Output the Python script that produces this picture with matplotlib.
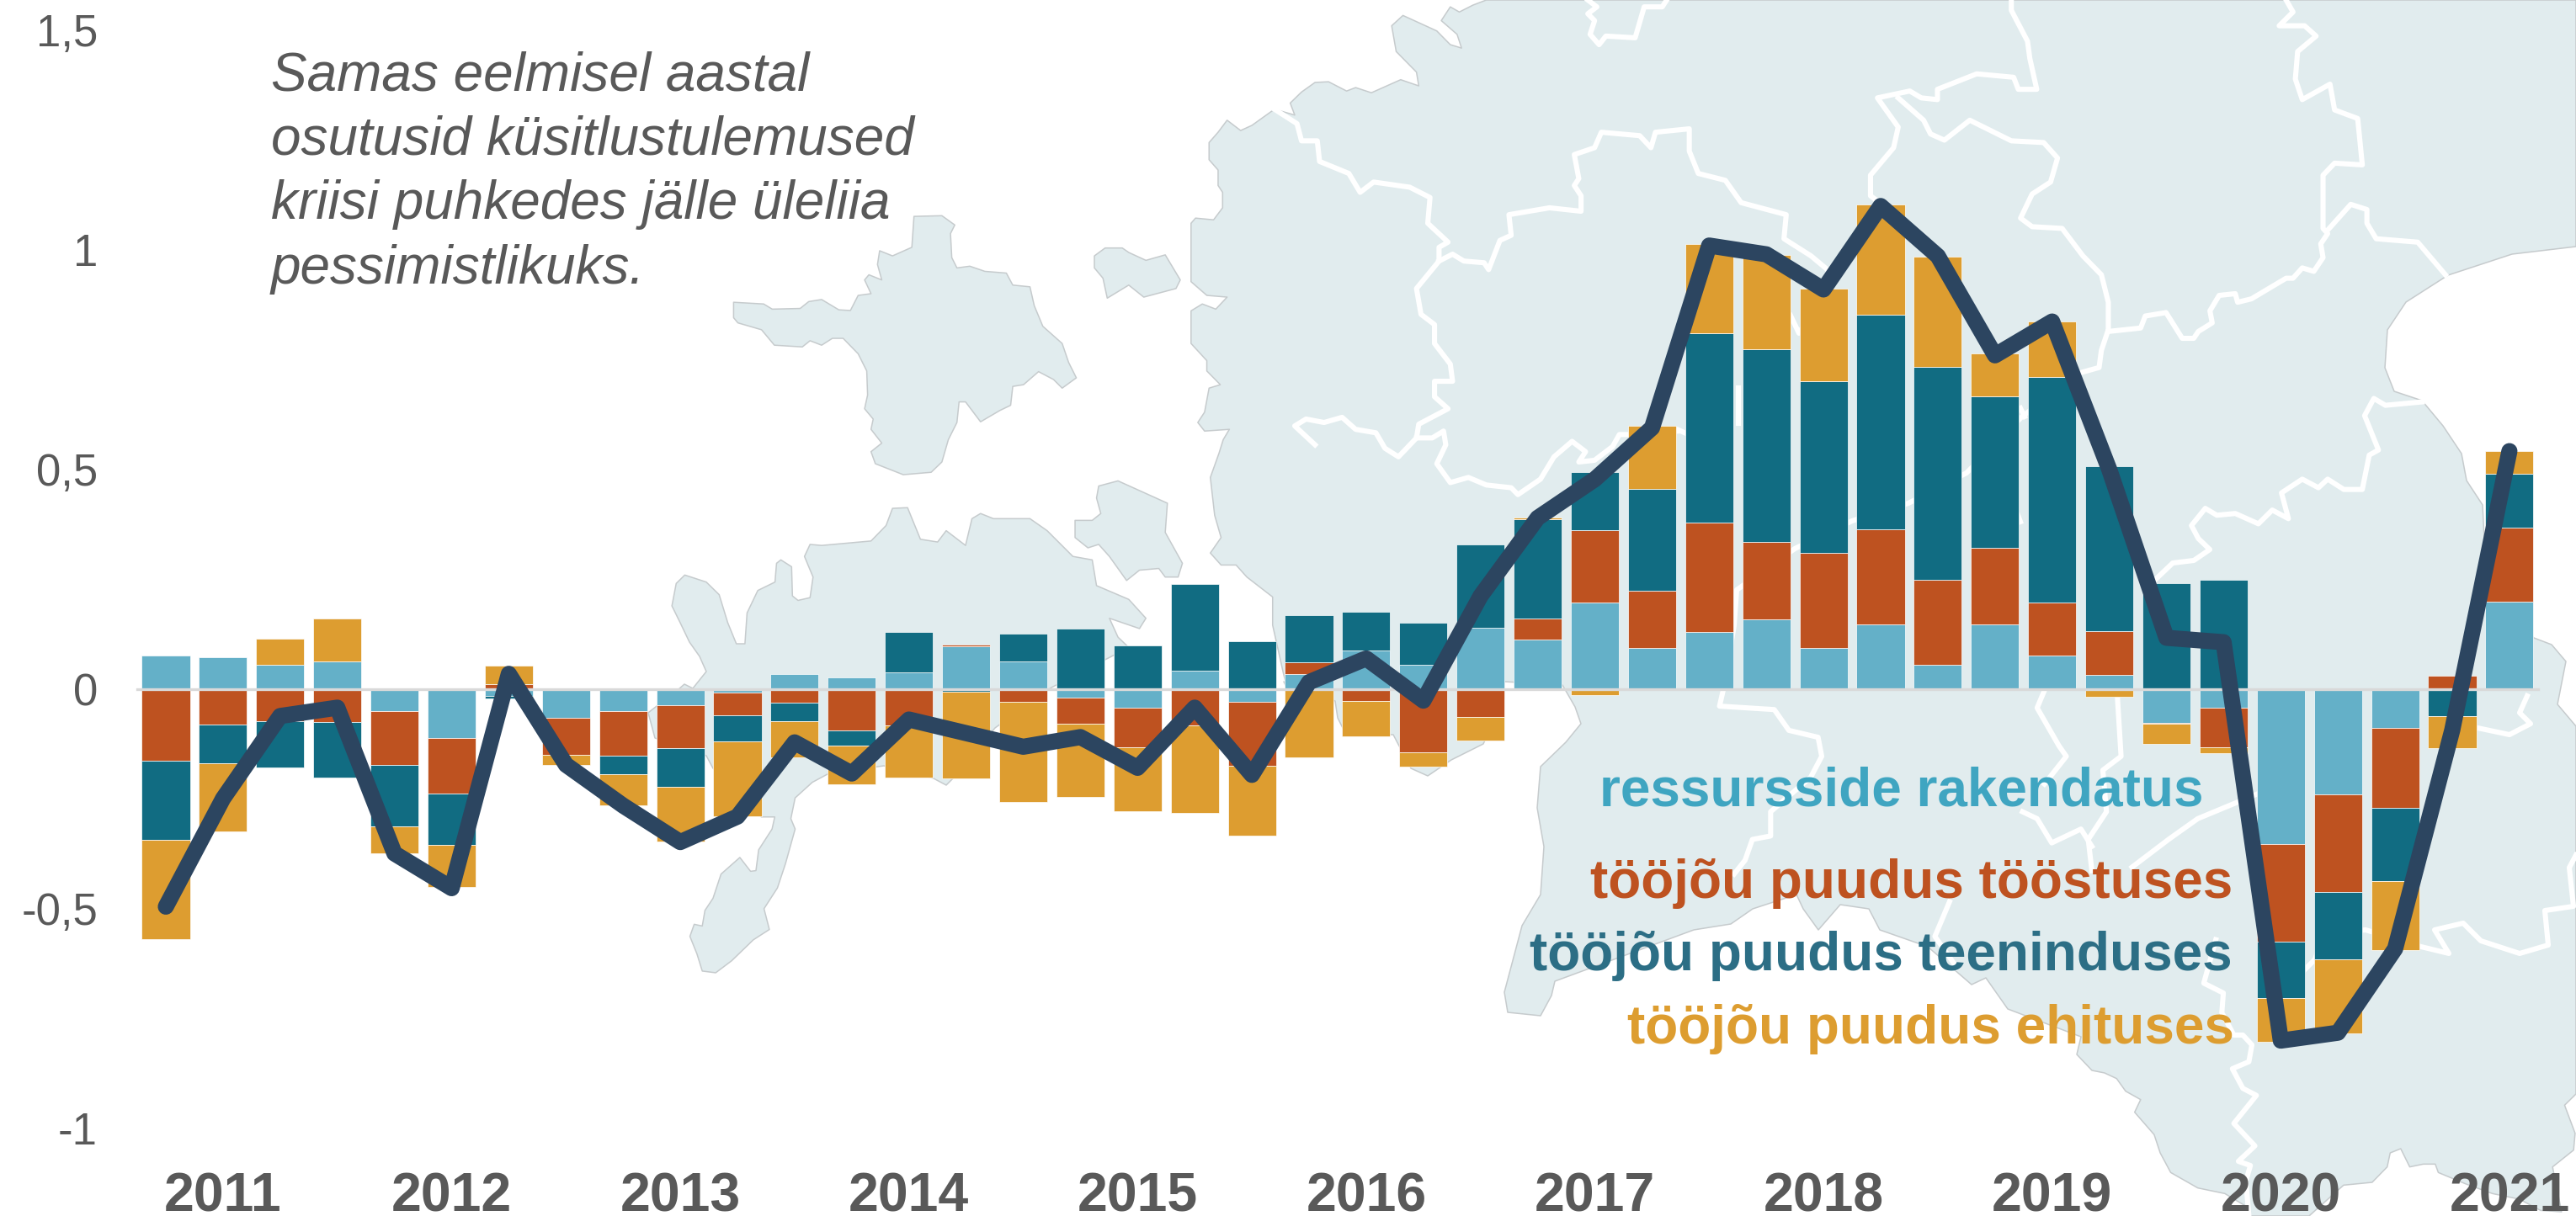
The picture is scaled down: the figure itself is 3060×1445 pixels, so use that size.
import matplotlib
matplotlib.use('Agg')
import matplotlib.pyplot as plt
from matplotlib.patches import Polygon

plt.rcParams['font.family'] = ['Liberation Sans', 'DejaVu Sans']

# chart data, one value per quarter
years = ['2011', '2012', '2013', '2014', '2015', '2016', '2017', '2018', '2019', '2020', '2021']
y_ticks = [1.5, 1, 0.5, 0, -0.5, -1]
y_labels = ['1,5', '1', '0,5', '0', '-0,5', '-1']

ressursid = [0.077, 0.072, 0.055, 0.063, -0.049, -0.112, -0.016, -0.066, -0.049, -0.036, -0.007,
             0.034, 0.026, 0.038, 0.097, 0.063, -0.02, -0.042, 0.042, -0.029, 0.034, 0.089,
             0.056, 0.139, 0.113, 0.198, 0.093, 0.131, 0.159, 0.093, 0.148, 0.056, 0.148, 0.076,
             0.033, -0.077, -0.043, -0.352, -0.239, -0.089, 0.0, 0.199]
toostus = [-0.163, -0.08, -0.073, -0.075, -0.123, -0.125, 0.012, -0.084, -0.102, -0.098, -0.053,
           -0.031, -0.093, -0.082, 0.004, -0.029, -0.059, -0.091, -0.082, -0.146, 0.027, -0.027,
           -0.144, -0.064, 0.048, 0.165, 0.131, 0.248, 0.177, 0.218, 0.216, 0.194, 0.173, 0.122,
           0.1, -0.002, -0.089, -0.222, -0.222, -0.182, 0.031, 0.169]
teenindus = [-0.179, -0.088, -0.105, -0.127, -0.141, -0.118, -0.005, 0.0, -0.042, -0.088, -0.059,
             -0.042, -0.036, 0.092, -0.006, 0.063, 0.138, 0.099, 0.197, 0.109, 0.107, 0.087,
             0.096, 0.19, 0.226, 0.132, 0.231, 0.432, 0.438, 0.39, 0.488, 0.484, 0.346, 0.513,
             0.375, 0.242, 0.249, -0.129, -0.154, -0.165, -0.061, 0.123]
ehitus = [-0.227, -0.156, 0.059, 0.097, -0.061, -0.096, 0.042, -0.023, -0.072, -0.124, -0.17,
          -0.082, -0.087, -0.119, -0.197, -0.228, -0.167, -0.145, -0.199, -0.159, -0.155, -0.081,
          -0.033, -0.052, 0.003, -0.014, 0.144, 0.202, 0.214, 0.21, 0.252, 0.25, 0.097, 0.127,
          -0.017, -0.046, -0.013, -0.099, -0.168, -0.157, -0.073, 0.051]
kokku = [-0.495, -0.249, -0.061, -0.042, -0.374, -0.453, 0.035, -0.172, -0.265, -0.348, -0.29,
         -0.121, -0.192, -0.069, -0.1, -0.131, -0.109, -0.179, -0.042, -0.195, 0.016, 0.07,
         -0.026, 0.212, 0.39, 0.478, 0.595, 1.01, 0.99, 0.91, 1.1, 0.986, 0.76, 0.837,
         0.5, 0.117, 0.107, -0.8, -0.782, -0.591, -0.093, 0.542]

series_names = ['ressursside rakendatus', 'tööjõu puudus tööstuses',
                'tööjõu puudus teeninduses', 'tööjõu puudus ehituses']
bar_colors = ['#64B0C8', '#BE5220', '#116C82', '#DD9D30']
text_colors = ['#3FA5C1', '#BE5220', '#2C6E85', '#DD9D30']
note = 'Samas eelmisel aastal\nosutusid küsitlustulemused\nkriisi puhkedes jälle üleliia\npessimistlikuks.'


def crop(x0, y0, sx, sy, pts):
    return [(x0 + x / sx, y0 + y / sy) for x, y in pts]


# background map, in picture pixels
Z1 = (140, 650, 1.96, 3)
Z5 = (800, 200, 1.96, 2.45)
Z6 = (1380, 0, 1.867, 2.45)
Z7 = (2200, 0, 1.823, 2.45)
Z8 = (1700, 800, 1.153, 2.43)
Z9 = (780, 800, 1.568, 2.43)
Z10 = (2500, 1100, 2.8, 3)

island_a = crop(*Z5, [(140, 390), (140, 435), (150, 450), (205, 470), (235, 515), (300, 520), (318, 502), (345, 515),
                      (370, 495), (395, 495), (430, 540), (450, 590), (452, 660), (445, 700), (465, 730), (460, 760),
                      (485, 800), (460, 825), (470, 860), (535, 892), (600, 885), (625, 855), (640, 790), (660, 740),
                      (665, 680), (680, 680), (715, 738), (760, 705), (785, 690), (790, 635), (815, 630), (850, 592),
                      (885, 615), (905, 640), (938, 610), (920, 565), (905, 510), (860, 460), (840, 400), (830, 345),
                      (790, 340), (775, 305), (725, 300), (690, 285), (660, 290), (648, 260), (645, 190), (655, 165),
                      (625, 138), (560, 140), (555, 230), (510, 255), (480, 240), (475, 280), (485, 325), (455, 310),
                      (445, 325), (460, 365), (430, 370), (412, 414), (385, 412), (345, 382), (315, 388), (295, 408),
                      (230, 410), (210, 395)])
island_b = crop(*Z5, [(980, 255), (1005, 232), (1045, 232), (1060, 245), (1100, 268), (1145, 252), (1180, 325),
                      (1170, 350), (1095, 375), (1060, 340), (1010, 378), (1000, 320), (980, 290)])
island_c = crop(*Z5, [(990, 925), (1035, 910), (1150, 975), (1145, 1060), (1185, 1150), (1175, 1190), (1145, 1190),
                      (1130, 1165), (1085, 1170), (1055, 1200), (1015, 1130), (990, 1095), (965, 1105), (935, 1075),
                      (935, 1025), (975, 1025), (995, 1005), (985, 960)])
island_d = (crop(*Z1, [(1290, 210), (1300, 130), (1320, 100), (1370, 125), (1400, 170), (1420, 270), (1440, 345),
                       (1460, 345), (1465, 235), (1490, 155), (1530, 125)])
            + crop(*Z5, [(240, 1150), (250, 1140), (275, 1160), (277, 1245), (290, 1258), (318, 1250), (325, 1190),
                         (305, 1130), (318, 1095), (345, 1098), (460, 1085), (495, 1040), (510, 990), (545, 988),
                         (575, 1080), (615, 1088), (635, 1055), (680, 1098), (695, 1020), (715, 1005), (745, 1020),
                         (830, 1020), (870, 1055), (930, 1130), (975, 1140), (985, 1215), (1060, 1255), (1100, 1310),
                         (1085, 1340), (1015, 1310), (1035, 1365), (1060, 1395)])
            + [(1249, 817), (1182, 865), (1137, 920), (1124, 933), (1109, 925), (1050, 910)]
            + crop(*Z9, [(320, 290), (290, 315), (258, 360), (250, 420), (258, 450), (240, 550), (225, 620), (200, 680),
                         (210, 740), (180, 770), (140, 830), (110, 865), (85, 860), (75, 810), (62, 760), (70, 725),
                         (85, 730), (90, 685), (105, 650), (120, 580), (155, 532), (175, 572), (185, 570), (190, 510),
                         (215, 450), (220, 415), (195, 415)])
            + [(847, 913), (839, 898), (778, 877), (770, 847), (775, 843), (805, 820), (813, 813), (823, 818),
               (839, 798), (831, 780), (819, 763), (808, 740)])

main_west = crop(*Z6, [(720, 0), (690, 15), (660, 35), (640, 20), (620, 60), (655, 100), (665, 140), (640, 130),
                       (610, 90), (535, 45), (510, 75), (520, 150), (565, 210), (570, 250), (530, 232), (465, 270),
                       (430, 255), (410, 265), (370, 238), (340, 240), (310, 268), (285, 300), (295, 335), (250, 318),
                       (200, 365), (175, 380), (145, 350), (125, 385), (105, 415), (105, 465), (125, 495), (125, 540),
                       (135, 560), (135, 605), (115, 640), (75, 635), (65, 650), (65, 820), (100, 860), (145, 865),
                       (120, 900), (90, 885), (65, 905), (65, 1000), (100, 1050), (100, 1080), (130, 1120), (105, 1130),
                       (95, 1200), (80, 1230), (95, 1255), (150, 1250)])
main_west2 = crop(*Z5, [(1280, 790), (1270, 830), (1250, 900), (1260, 1010), (1275, 1075), (1250, 1120), (1275, 1155),
                        (1310, 1155), (1335, 1190), (1395, 1248), (1395, 1330), (1420, 1470), (1430, 1520)])
main_south = [(1525, 810), (1586, 833), (1589, 853), (1599, 873), (1655, 873), (1676, 913), (1696, 922), (1724, 903),
              (1762, 884), (1787, 830), (1787, 810), (1856, 814), (1871, 840), (1878, 860), (1860, 882), (1830, 911),
              (1826, 960), (1834, 1006), (1830, 1063), (1808, 1100), (1787, 1179), (1791, 1203), (1830, 1207),
              (1843, 1183), (1847, 1166), (2012, 1105), (2056, 1098), (2082, 1080), (2134, 1063), (2142, 1080),
              (2160, 1105), (2186, 1075), (2220, 1080), (2233, 1105), (2290, 1125), (2342, 1170), (2359, 1162),
              (2385, 1199), (2472, 1232), (2467, 1253), (2485, 1272)]
main_se = crop(*Z10, [(0, 525), (40, 545), (70, 590), (120, 620), (100, 665), (165, 745), (185, 810), (220, 880),
                      (310, 935), (400, 955), (470, 1000), (480, 1035), (680, 1035), (795, 925), (890, 915), (940, 860),
                      (950, 810), (985, 795), (1015, 860), (1060, 850), (1100, 850), (1110, 880), (1200, 920),
                      (1290, 955), (1380, 975), (1450, 1015), (1520, 1020), (1490, 860), (1560, 800), (1565, 740),
                      (1530, 640), (1568, 600)])
main_east = [(3060, 863), (3038, 837), (3048, 786), (3031, 766), (3010, 758), (2951, 700), (2951, 640), (2949, 600),
             (2930, 571), (2924, 539), (2902, 506), (2877, 476), (2844, 465), (2833, 437), (2836, 392), (2858, 359),
             (2908, 327), (2984, 302), (3060, 293)]
mainland = main_west + main_west2 + main_south + main_se + main_east + [(3060, 0)]

borders = [
    crop(*Z6, [(250, 318), (300, 360), (310, 410), (345, 410), (350, 470), (415, 505), (440, 560), (470, 530), (550, 545),
               (595, 575), (590, 650), (635, 705), (615, 720), (615, 760), (565, 840), (575, 915), (605, 945), (605, 1000),
               (640, 1060), (645, 1110), (605, 1110), (605, 1155), (635, 1190), (570, 1235), (565, 1275), (525, 1330),
               (495, 1305), (475, 1260), (430, 1250), (400, 1215), (360, 1230), (320, 1220), (295, 1240), (340, 1295)]),
    crop(*Z6, [(615, 760), (645, 740), (670, 760), (715, 765), (725, 785), (750, 700), (775, 685), (770, 625), (860, 605),
               (930, 615), (930, 570), (915, 540), (925, 520), (915, 450), (960, 430), (975, 385), (1060, 395), (1085, 430),
               (1095, 385), (1170, 375), (1170, 440), (1190, 505), (1250, 525), (1285, 590), (1385, 625), (1380, 695),
               (1440, 745), (1490, 800)]),
    crop(*Z6, [(565, 1275), (600, 1275), (625, 1255), (630, 1295), (610, 1350), (640, 1405), (680, 1390), (720, 1412),
               (775, 1420), (790, 1440), (840, 1395), (870, 1330), (910, 1285), (940, 1315), (925, 1345), (960, 1340),
               (1000, 1300), (1015, 1265), (1040, 1265), (1145, 1255)]),
    crop(*Z6, [(945, 0), (965, 20), (945, 40), (960, 60), (950, 100), (970, 130), (985, 105), (1050, 110), (1070, 20),
               (1110, 20), (1120, 0)]),
    crop(*Z7, [(345, 0), (345, 30), (380, 120), (385, 170), (400, 260), (360, 260), (350, 225), (270, 215), (185, 260),
               (185, 290), (150, 285), (125, 265), (55, 285), (100, 370), (90, 430), (40, 510), (40, 570), (60, 590)]),
    crop(*Z7, [(100, 285), (155, 350), (170, 390), (200, 408), (255, 350), (345, 410), (415, 415), (445, 460), (430, 530),
               (390, 565), (365, 635), (390, 660), (455, 665), (500, 745), (540, 800), (555, 880), (555, 960), (540, 1020),
               (535, 1070), (495, 1085)])
    + [(2402, 495), (2336, 562), (2267, 598), (2200, 619), (2132, 652), (2063, 701), (2060, 743), (2047, 820)]
    + crop(*Z8, [(395, 95), (470, 105), (490, 165), (530, 185), (535, 240), (520, 300), (465, 400), (465, 470), (440, 480),
                 (430, 540), (415, 580)]),
    crop(*Z7, [(555, 965), (625, 955), (635, 920), (680, 910), (715, 985), (740, 985), (750, 965), (780, 940), (775, 905),
               (795, 860), (830, 855), (835, 880), (865, 870), (940, 810), (955, 810), (975, 780), (1000, 790), (1020, 750),
               (1015, 710), (1030, 680), (1020, 665), (1020, 510), (1045, 475), (1105, 480), (1095, 345), (1045, 320),
               (1035, 245), (975, 290), (960, 230), (965, 150), (1005, 105), (980, 75), (925, 75), (955, 35), (940, 0)]),
    crop(*Z7, [(1030, 670), (1080, 595), (1115, 610), (1115, 650), (1135, 695), (1225, 705), (1285, 800)]),
    crop(*Z7, [(1235, 1170), (1155, 1180), (1130, 1160), (1110, 1210), (1140, 1310), (1120, 1325), (1105, 1425),
               (1065, 1425), (1030, 1395), (1010, 1420), (975, 1395), (930, 1435), (945, 1510), (910, 1485), (880, 1525),
               (830, 1495), (790, 1500), (765, 1480), (735, 1530), (750, 1568)])
    + [(2625, 653), (2606, 666), (2581, 669), (2560, 689)],
    [(3002, 827), (2993, 847), (3006, 860), (2981, 873), (2943, 865), (2918, 873)],
    [(3060, 1016), (3052, 1031), (3057, 1077), (3023, 1082), (3027, 1123), (2993, 1133), (2947, 1118), (2926, 1097),
     (2892, 1105), (2909, 1133), (2876, 1125), (2860, 1120), (2810, 1105), (2760, 1110), (2750, 1140), (2730, 1160)],
    crop(*Z8, [(840, 50), (830, 100), (860, 210), (870, 240), (840, 320)]),
    crop(*Z8, [(940, 70), (945, 240), (920, 280), (925, 400), (900, 480), (905, 570)]),
    crop(*Z8, [(1130, 350), (1050, 420), (1010, 480), (960, 560)]),
    crop(*Z8, [(810, 400), (830, 420), (850, 490), (890, 450), (905, 500)]),
    crop(*Z8, [(710, 660), (690, 760), (720, 850)]),
    crop(*Z10, [(370, 50), (330, 205), (395, 240), (390, 310), (430, 390), (460, 390), (490, 425), (480, 485), (425, 510),
                (460, 580), (505, 605), (430, 705), (500, 785), (445, 840), (485, 855), (470, 910), (480, 1035)]),
    [(1994, 511), (2005, 516)],
    [(2065, 461), (2065, 503)],
    [(2127, 375), (2137, 396), (2178, 330)],
    [(2397, 612), (2400, 620)],
    [(2400, 485), (2405, 495)],
]

fig = plt.figure(figsize=(15.3, 7.225), dpi=200)

# map goes on its own axes behind the chart
bg = fig.add_axes([0, 0, 1, 1], zorder=0)
bg.set_xlim(0, 3060)
bg.set_ylim(1445, 0)
bg.axis('off')
for shape in [mainland, island_a, island_b, island_c, island_d]:
    bg.add_patch(Polygon(shape, closed=True, facecolor='#E1ECEE', edgecolor='#C6CBCD', lw=0.55, joinstyle='round'))
for b in borders:
    bg.plot([p[0] for p in b], [p[1] for p in b], color='white', lw=2.2, solid_joinstyle='round')

# chart axes: 0 sits on pixel 819, one unit is 522 px, one quarter is 67.9 px
ax = fig.add_axes([130 / 3060, 55 / 1445, (3060 - 130) / 3060, 1390 / 1445], zorder=1)
ax.patch.set_alpha(0)
ax.set_xlim((130 - 197) / 67.9, (3060 - 197) / 67.9)
ax.set_ylim((819 - 1390) / 522, 819 / 522)
for s in ax.spines.values():
    s.set_visible(False)

x = list(range(len(kokku)))
pos_base = [0.0] * len(x)
neg_base = [0.0] * len(x)
for vals, col in zip([ressursid, toostus, teenindus, ehitus], bar_colors):
    bottoms = [pos_base[i] if vals[i] >= 0 else neg_base[i] for i in x]
    ax.bar(x, vals, bottom=bottoms, width=0.84, color=col, edgecolor='white', linewidth=0.25, zorder=2)
    for i in x:
        if vals[i] >= 0:
            pos_base[i] += vals[i]
        else:
            neg_base[i] += vals[i]

ax.plot([(163 - 197) / 67.9, (3015 - 197) / 67.9], [0, 0], color='#D9D9D9', lw=1.2, zorder=3)
ax.plot(x, kokku, color='#2C4560', lw=6.9, solid_joinstyle='round', solid_capstyle='round', zorder=5)

ax.set_yticks(y_ticks)
ax.set_yticklabels(y_labels, fontsize=19, color='#595959')
ax.set_xticks(range(1, 42, 4))
ax.set_xticklabels(years, fontsize=23.2, fontweight='bold', color='#595959')
ax.tick_params(axis='both', length=0)
ax.tick_params(axis='y', pad=5)
ax.tick_params(axis='x', pad=1)

# labels instead of a legend
legend_right = [2618, 2652, 2652, 2654]
legend_base = [957, 1067, 1153, 1240]
for name, col, rx, by in zip(series_names, text_colors, legend_right, legend_base):
    fig.text(rx / 3060, 1 - by / 1445, name, color=col, fontsize=23, fontweight='bold', ha='right', va='baseline', zorder=6)

for line, by in zip(note.split('\n'), [107, 183, 260, 337]):
    fig.text(322 / 3060, 1 - by / 1445, line, color='#595959', fontsize=23, style='italic', va='baseline', zorder=6)

fig.savefig('out.png', dpi=200)
